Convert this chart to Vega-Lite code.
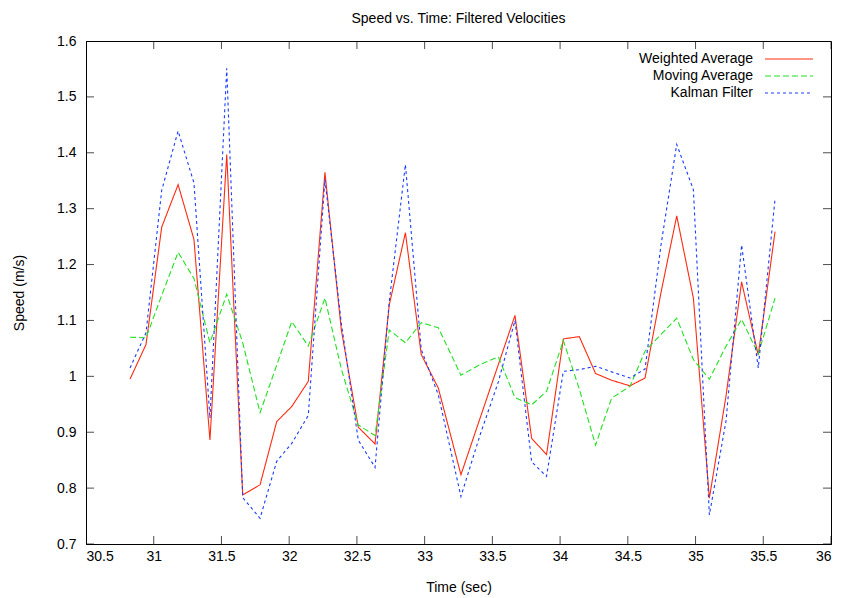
{
  "$schema": "https://vega.github.io/schema/vega-lite/v6.json",
  "width": 745,
  "height": 503,
  "autosize": {"type": "none"},
  "padding": {"left": 86, "top": 41, "right": 11, "bottom": 54},
  "background": "white",
  "title": {"text": "Speed vs. Time: Filtered Velocities", "fontSize": 14, "font": "Liberation Sans", "fontWeight": "normal", "offset": 8, "color": "black", "anchor": "middle"},
  "config": {
    "font": "Liberation Sans",
    "view": {"stroke": "black", "strokeWidth": 1},
    "axis": {"grid": false, "domainColor": "black", "tickColor": "black", "labelColor": "black", "titleColor": "black", "labelFontSize": 14, "titleFontSize": 14, "titleFontWeight": "normal", "labelFont": "Liberation Sans", "titleFont": "Liberation Sans"},
    "legend": {"symbolType": "M-3,0H3", "symbolSize": 256, "symbolStrokeWidth": 1.2, "labelFontSize": 14, "labelFont": "Liberation Sans", "labelColor": "black", "labelAlign": "right", "labelOffset": -45, "symbolOffset": 24, "rowPadding": 1, "padding": 0, "labelLimit": 300}
  },
  "datasets": {
    "speeds": [
      {"t": 30.825, "Weighted Average": 0.995, "Moving Average": 1.070, "Kalman Filter": 1.015},
      {"t": 30.943, "Weighted Average": 1.057, "Moving Average": 1.069, "Kalman Filter": 1.078},
      {"t": 31.059, "Weighted Average": 1.267, "Moving Average": 1.145, "Kalman Filter": 1.333},
      {"t": 31.180, "Weighted Average": 1.343, "Moving Average": 1.222, "Kalman Filter": 1.439},
      {"t": 31.297, "Weighted Average": 1.245, "Moving Average": 1.175, "Kalman Filter": 1.346},
      {"t": 31.415, "Weighted Average": 0.886, "Moving Average": 1.060, "Kalman Filter": 0.925},
      {"t": 31.539, "Weighted Average": 1.397, "Moving Average": 1.147, "Kalman Filter": 1.551},
      {"t": 31.657, "Weighted Average": 0.788, "Moving Average": 1.060, "Kalman Filter": 0.783},
      {"t": 31.785, "Weighted Average": 0.806, "Moving Average": 0.935, "Kalman Filter": 0.746},
      {"t": 31.908, "Weighted Average": 0.919, "Moving Average": 1.020, "Kalman Filter": 0.848},
      {"t": 32.019, "Weighted Average": 0.946, "Moving Average": 1.098, "Kalman Filter": 0.880},
      {"t": 32.141, "Weighted Average": 0.991, "Moving Average": 1.054, "Kalman Filter": 0.930},
      {"t": 32.264, "Weighted Average": 1.365, "Moving Average": 1.140, "Kalman Filter": 1.352},
      {"t": 32.385, "Weighted Average": 1.083, "Moving Average": 1.013, "Kalman Filter": 1.095},
      {"t": 32.510, "Weighted Average": 0.909, "Moving Average": 0.913, "Kalman Filter": 0.886},
      {"t": 32.634, "Weighted Average": 0.879, "Moving Average": 0.894, "Kalman Filter": 0.837},
      {"t": 32.739, "Weighted Average": 1.128, "Moving Average": 1.083, "Kalman Filter": 1.134},
      {"t": 32.858, "Weighted Average": 1.257, "Moving Average": 1.060, "Kalman Filter": 1.379},
      {"t": 32.975, "Weighted Average": 1.039, "Moving Average": 1.096, "Kalman Filter": 1.048},
      {"t": 33.101, "Weighted Average": 0.979, "Moving Average": 1.087, "Kalman Filter": 0.967},
      {"t": 33.268, "Weighted Average": 0.824, "Moving Average": 1.002, "Kalman Filter": 0.785},
      {"t": 33.409, "Weighted Average": 0.925, "Moving Average": 1.021, "Kalman Filter": 0.895},
      {"t": 33.544, "Weighted Average": 1.021, "Moving Average": 1.035, "Kalman Filter": 0.990},
      {"t": 33.667, "Weighted Average": 1.109, "Moving Average": 0.962, "Kalman Filter": 1.100},
      {"t": 33.790, "Weighted Average": 0.889, "Moving Average": 0.949, "Kalman Filter": 0.847},
      {"t": 33.900, "Weighted Average": 0.860, "Moving Average": 0.973, "Kalman Filter": 0.821},
      {"t": 34.024, "Weighted Average": 1.067, "Moving Average": 1.064, "Kalman Filter": 1.009},
      {"t": 34.142, "Weighted Average": 1.071, "Moving Average": 0.977, "Kalman Filter": 1.012},
      {"t": 34.262, "Weighted Average": 1.005, "Moving Average": 0.877, "Kalman Filter": 1.018},
      {"t": 34.380, "Weighted Average": 0.993, "Moving Average": 0.961, "Kalman Filter": 1.008},
      {"t": 34.516, "Weighted Average": 0.983, "Moving Average": 0.982, "Kalman Filter": 0.997},
      {"t": 34.627, "Weighted Average": 0.997, "Moving Average": 1.045, "Kalman Filter": 1.013},
      {"t": 34.745, "Weighted Average": 1.150, "Moving Average": 1.075, "Kalman Filter": 1.235},
      {"t": 34.861, "Weighted Average": 1.287, "Moving Average": 1.104, "Kalman Filter": 1.415},
      {"t": 34.984, "Weighted Average": 1.140, "Moving Average": 1.030, "Kalman Filter": 1.334},
      {"t": 35.102, "Weighted Average": 0.782, "Moving Average": 0.995, "Kalman Filter": 0.752},
      {"t": 35.225, "Weighted Average": 0.965, "Moving Average": 1.054, "Kalman Filter": 0.920},
      {"t": 35.340, "Weighted Average": 1.169, "Moving Average": 1.102, "Kalman Filter": 1.235},
      {"t": 35.463, "Weighted Average": 1.038, "Moving Average": 1.040, "Kalman Filter": 1.015},
      {"t": 35.587, "Weighted Average": 1.259, "Moving Average": 1.140, "Kalman Filter": 1.318}
    ],
    "xticks": [{"t": 30.5}, {"t": 31}, {"t": 31.5}, {"t": 32}, {"t": 32.5}, {"t": 33}, {"t": 33.5}, {"t": 34}, {"t": 34.5}, {"t": 35}, {"t": 35.5}, {"t": 36}],
    "yticks": [{"v": 0.7}, {"v": 0.8}, {"v": 0.9}, {"v": 1}, {"v": 1.1}, {"v": 1.2}, {"v": 1.3}, {"v": 1.4}, {"v": 1.5}, {"v": 1.6}]
  },
  "layer": [
    {
      "data": {"name": "speeds"},
      "transform": [{"fold": ["Weighted Average", "Moving Average", "Kalman Filter"], "as": ["series", "v"]}],
      "mark": {"type": "line", "strokeWidth": 1.1, "clip": true},
      "encoding": {
        "x": {"field": "t", "type": "quantitative", "scale": {"domain": [30.5, 36], "nice": false, "zero": false},
              "axis": {"values": [30.5, 31, 31.5, 32, 32.5, 33, 33.5, 34, 34.5, 35, 35.5, 36], "format": "~g", "title": "Time (sec)", "ticks": false, "labelPadding": 5, "titlePadding": 17}},
        "y": {"field": "v", "type": "quantitative", "scale": {"domain": [0.7, 1.6], "nice": false, "zero": false},
              "axis": {"values": [0.7, 0.8, 0.9, 1, 1.1, 1.2, 1.3, 1.4, 1.5, 1.6], "format": "~g", "title": "Speed (m/s)", "ticks": false, "labelPadding": 10, "titlePadding": 30}},
        "color": {"field": "series", "type": "nominal",
                  "scale": {"domain": ["Weighted Average", "Moving Average", "Kalman Filter"], "range": ["#ff2a10", "#22e022", "#1a3cff"]},
                  "legend": {"title": null, "orient": "none", "legendX": 670, "legendY": 9}},
        "strokeDash": {"field": "series", "type": "nominal",
                  "scale": {"domain": ["Weighted Average", "Moving Average", "Kalman Filter"], "range": [[1, 0], [6, 3], [3, 3]]},
                  "legend": {"title": null, "orient": "none", "legendX": 670, "legendY": 9}}
      }
    },
    {
      "data": {"name": "xticks"},
      "mark": {"type": "tick", "orient": "vertical", "clip": true, "size": 16, "thickness": 1, "color": "black"},
      "encoding": {
        "x": {"field": "t", "type": "quantitative", "axis": null},
        "y": {"datum": 0.7, "type": "quantitative", "axis": null}
      }
    },
    {
      "data": {"name": "xticks"},
      "mark": {"type": "tick", "orient": "vertical", "clip": true, "size": 16, "thickness": 1, "color": "black"},
      "encoding": {
        "x": {"field": "t", "type": "quantitative", "axis": null},
        "y": {"datum": 1.6, "type": "quantitative", "axis": null}
      }
    },
    {
      "data": {"name": "yticks"},
      "mark": {"type": "tick", "orient": "horizontal", "clip": true, "size": 16, "thickness": 1, "color": "black"},
      "encoding": {
        "y": {"field": "v", "type": "quantitative", "axis": null},
        "x": {"datum": 30.5, "type": "quantitative", "axis": null}
      }
    },
    {
      "data": {"name": "yticks"},
      "mark": {"type": "tick", "orient": "horizontal", "clip": true, "size": 16, "thickness": 1, "color": "black"},
      "encoding": {
        "y": {"field": "v", "type": "quantitative", "axis": null},
        "x": {"datum": 36, "type": "quantitative", "axis": null}
      }
    }
  ],
  "resolve": {"axis": {"x": "independent", "y": "independent"}}
}
